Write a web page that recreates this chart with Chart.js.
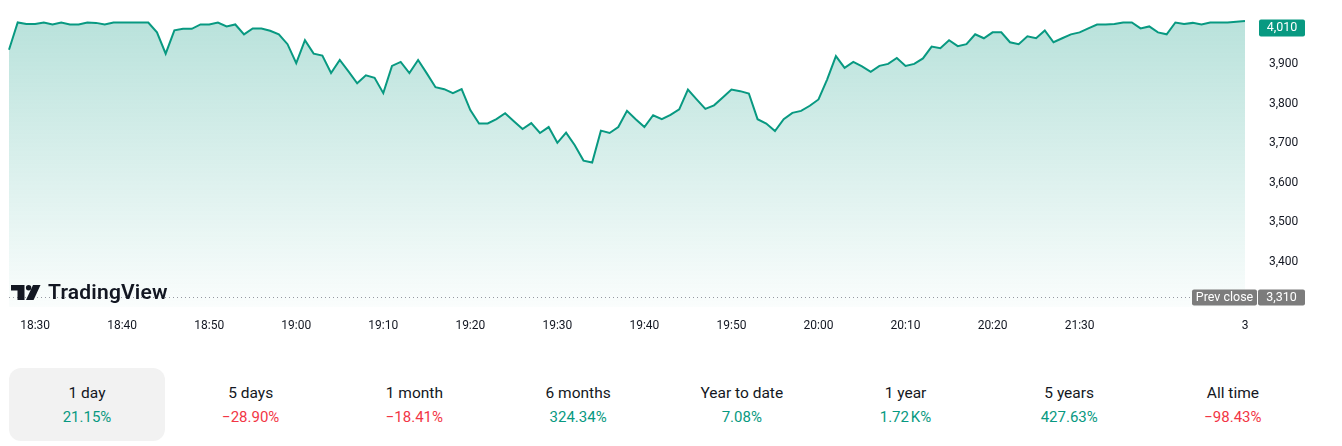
<!DOCTYPE html>
<html>
<head>
<meta charset="utf-8">
<script src="https://cdn.jsdelivr.net/npm/chart.js@4.4.1/dist/chart.umd.min.js"></script>
<style>
  html, body { margin:0; padding:0; background:#fff; width:1342px; height:446px; overflow:hidden; font-family: Roboto, sans-serif; }
  #wrap { position:absolute; left:0; top:0; width:1342px; height:345px; }
  #logo { position:absolute; left:11px; top:281px; height:22px; display:flex; align-items:center; pointer-events:none; }
  #logo svg { display:block; margin-right:7px; }
  #logo span { font-family: Roboto, sans-serif; font-weight:600; font-size:21px; color:#131722; letter-spacing:0.2px; line-height:22px; }
  .tab { position:absolute; top:368px; width:156px; height:73px; border-radius:12px; text-align:center; }
  .tab.sel { background:#f2f2f2; }
  .tab .t { position:absolute; left:0; right:0; top:15px; font-size:15.5px; line-height:20px; color:#131722; }
  .tab .v { position:absolute; left:0; right:0; top:40px; font-size:15px; line-height:18px; }
  .up { color:#089981; }
  .down { color:#f23645; }
</style>
</head>
<body>
<div id="wrap"><canvas id="c" width="1342" height="345"></canvas></div>
<div id="logo">
  <svg width="30" height="15" viewBox="0 0 30 15">
    <path d="M0 0H13.5V15H6.5V5.5H0Z" fill="#131722"/>
    <circle cx="17.6" cy="2.7" r="2.7" fill="#131722"/>
    <path d="M22 0H29.5L22.6 15H15Z" fill="#131722"/>
  </svg>
  <span>TradingView</span>
</div>
<div id="tabs"></div>
<script>
// ---- data ----
const sessionStartMinute = 18 * 60 + 27;
const sessionBreakMinute = 20 * 60 + 29;
const resumeMinute = 21 * 60 + 30;
const pointCount = 143;

const price = [
  3937,4006,4002,4002,4006,4001,4006,4001,4001,4006,
  4005,4001,4006,4006,4006,4006,4006,3981,3927,3986,
  3990,3990,4001,4001,4006,3996,4001,3976,3991,3991,
  3985,3976,3951,3903,3961,3927,3922,3878,3911,3882,
  3852,3872,3866,3827,3896,3906,3878,3911,3877,3842,
  3837,3827,3837,3784,3750,3750,3761,3776,3756,3736,
  3751,3726,3741,3701,3727,3695,3656,3651,3732,3726,
  3741,3782,3761,3741,3771,3761,3772,3786,3836,3811,
  3787,3796,3816,3836,3832,3826,3761,3750,3731,3761,
  3777,3782,3795,3811,3862,3921,3891,3906,3895,3881,
  3896,3901,3916,3896,3901,3915,3945,3941,3961,3946,
  3951,3976,3966,3981,3981,3956,3951,3971,3966,3986,
  3956,3966,3976,3981,3991,4001,4001,4002,4006,4006,
  3991,3996,3981,3976,4006,4002,4005,4001,4006,4006,
  4006,4008,4010
];
const prevClose = 3310;
const yTicks = [3400, 3500, 3600, 3700, 3800, 3900];
const xTickLabels = ["18:30","18:40","18:50","19:00","19:10","19:20","19:30","19:40","19:50","20:00","20:10","20:20","21:30"];
const dayMarker = "3";

const periods = ["1 day","5 days","1 month","6 months","Year to date","1 year","5 years","All time"];
const periodChanges = ["21.15%","\u221228.90%","\u221218.41%","324.34%","7.08%","1.72\u202FK%","427.63%","\u221298.43%"];
const periodUp = [true,false,false,true,true,true,true,false];

// ---- categories (time labels) ----
function fmt(m){ const h = Math.floor(m/60), mm = m%60; return h + ":" + (mm<10?"0":"") + mm; }
const categories = [];
let m = sessionStartMinute;
while (categories.length < pointCount) {
  categories.push(fmt(m));
  m = (m === sessionBreakMinute) ? resumeMinute : m + 1;
}

// ---- tabs ----
const tabs = document.getElementById('tabs');
periods.forEach((p, i) => {
  const d = document.createElement('div');
  d.className = 'tab' + (i === 0 ? ' sel' : '');
  d.style.left = (9 + 163.7 * i) + 'px';
  d.innerHTML = '<div class="t">' + p + '</div><div class="v ' + (periodUp[i] ? 'up' : 'down') + '">' + periodChanges[i] + '</div>';
  tabs.appendChild(d);
});

// ---- chart ----
const GREEN = '#089981';
const overlay = {
  id: 'overlay',
  afterDatasetsDraw(chart) {
    const ctx = chart.ctx, ys = chart.scales.y, ca = chart.chartArea;
    const font = '12.5px Roboto, sans-serif';
    const py = Math.round(ys.getPixelForValue(prevClose)) + 0.5;
    ctx.save();
    ctx.strokeStyle = '#9598a1';
    ctx.lineWidth = 1;
    ctx.setLineDash([1, 3]);
    ctx.beginPath(); ctx.moveTo(ca.left, py); ctx.lineTo(1192, py); ctx.stroke();
    ctx.setLineDash([]);
    ctx.fillStyle = '#7c7c7c';
    roundRect(ctx, 1192, py - 8, 65, 16, 2); ctx.fill();
    roundRect(ctx, 1258, py - 8, 47, 16, 2); ctx.fill();
    ctx.fillStyle = '#fff'; ctx.font = font; ctx.textBaseline = 'middle'; ctx.textAlign = 'center';
    ctx.fillText('Prev close', 1224.5, py);
    ctx.fillText(prevClose.toLocaleString('en-US'), 1281.5, py);
    const last = price[price.length - 1];
    const ly = Math.max(ys.getPixelForValue(last), 28);
    ctx.fillStyle = GREEN;
    roundRect(ctx, 1259, ly - 8.5, 46, 17, 2); ctx.fill();
    ctx.fillStyle = '#fff';
    ctx.fillText(last.toLocaleString('en-US'), 1282, ly);
    ctx.restore();
  }
};
function roundRect(ctx, x, y, w, h, r) {
  ctx.beginPath();
  ctx.moveTo(x + r, y); ctx.lineTo(x + w - r, y); ctx.quadraticCurveTo(x + w, y, x + w, y + r);
  ctx.lineTo(x + w, y + h - r); ctx.quadraticCurveTo(x + w, y + h, x + w - r, y + h);
  ctx.lineTo(x + r, y + h); ctx.quadraticCurveTo(x, y + h, x, y + h - r);
  ctx.lineTo(x, y + r); ctx.quadraticCurveTo(x, y, x + r, y);
  ctx.closePath();
}

new Chart(document.getElementById('c'), {
  type: 'line',
  data: {
    labels: categories,
    datasets: [{
      data: price,
      borderColor: GREEN,
      borderWidth: 2,
      pointRadius: 0,
      tension: 0,
      fill: 'start',
      backgroundColor(context) {
        const ca = context.chart.chartArea;
        if (!ca) return 'rgba(8,153,129,0.2)';
        const g = context.chart.ctx.createLinearGradient(0, ca.top, 0, ca.bottom);
        g.addColorStop(0, 'rgba(8,153,129,0.30)');
        g.addColorStop(1, 'rgba(8,153,129,0.02)');
        return g;
      }
    }]
  },
  options: {
    responsive: false,
    animation: false,
    devicePixelRatio: 1,
    layout: { padding: { left: 9, top: 0, right: 0, bottom: 0 } },
    plugins: { legend: { display: false }, tooltip: { enabled: false } },
    scales: {
      x: {
        type: 'category',
        offset: false,
        grid: { display: false, drawTicks: false, tickLength: 0 },
        border: { display: false },
        ticks: {
          autoSkip: false, maxRotation: 0, minRotation: 0, padding: 12,
          color: '#131722', font: { family: 'Roboto', size: 12 },
          callback: (v) => v === categories.length - 1 ? dayMarker : categories[v]
        },
        afterBuildTicks(scale) {
          const t = [];
          categories.forEach((c, i) => { if (xTickLabels.includes(c)) t.push({ value: i }); });
          t.push({ value: categories.length - 1 });
          scale.ticks = t;
        },
        afterFit(scale) { scale.height = 38; scale.paddingLeft = 0; scale.paddingRight = 0; }
      },
      y: {
        position: 'right',
        min: 3285, max: 4063,
        grid: { display: false, drawTicks: false, tickLength: 0 },
        border: { display: false },
        ticks: {
          padding: 24, color: '#131722', font: { family: 'Roboto', size: 12 },
          callback: (v) => Number(v).toLocaleString('en-US')
        },
        afterBuildTicks(scale) { scale.ticks = yTicks.map(v => ({ value: v })); },
        afterFit(scale) { scale.width = 97; scale.paddingTop = 0; scale.paddingBottom = 0; }
      }
    }
  },
  plugins: [overlay]
});
</script>
</body>
</html>
